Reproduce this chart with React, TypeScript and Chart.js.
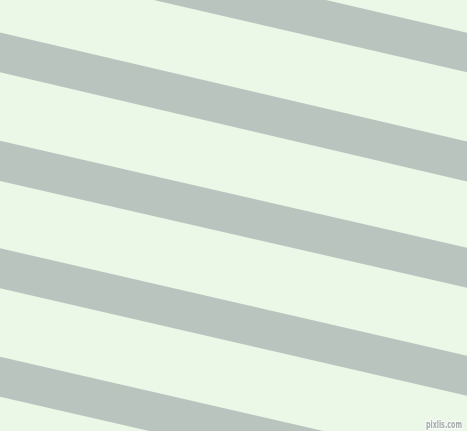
import React, { useEffect, useRef } from "react";
import { Chart, registerables, ChartConfiguration, Plugin } from "chart.js";

Chart.register(...registerables);

const WIDTH = 467;
const HEIGHT = 431;

// stripe edges, read at the left (x = 0) and right (x = 467) borders
const topLeft = [-75.5, 32.5, 140.8, 248.3, 356.7];
const topRight = [32.7, 141.5, 247.7, 355.7, 464];
const bottomLeft = [-35.5, 72.3, 181, 288.3, 396.7];
const bottomRight = [72.3, 181.5, 287.7, 395.7, 504];

const BG = "#ebf7e7";
const STRIPE = "#b9c4bf";
const watermark = "pixlis.com";

const watermarkPlugin: Plugin = {
  id: "watermark",
  afterDraw(chart) {
    const ctx = chart.ctx;
    ctx.save();
    ctx.font = "bold 10px 'DejaVu Sans Condensed', 'DejaVu Sans', sans-serif";
    ctx.textAlign = "right";
    ctx.textBaseline = "bottom";
    ctx.lineWidth = 2.5;
    ctx.lineJoin = "round";
    ctx.strokeStyle = "#f8fbf7";
    ctx.fillStyle = "#a3aca9";
    ctx.strokeText(watermark, 462, 430, 36);
    ctx.fillText(watermark, 462, 430, 36);
    ctx.restore();
  },
};

export default function App() {
  const ref = useRef<HTMLCanvasElement | null>(null);
  const chartRef = useRef<Chart | null>(null);

  useEffect(() => {
    const ctx = ref.current?.getContext("2d");
    if (!ctx) return;

    const datasets: any[] = [];
    topLeft.forEach((_, i) => {
      datasets.push({
        data: [
          { x: 0, y: topLeft[i] },
          { x: WIDTH, y: topRight[i] },
        ],
        borderWidth: 0,
        pointRadius: 0,
        fill: false,
      });
      datasets.push({
        data: [
          { x: 0, y: bottomLeft[i] },
          { x: WIDTH, y: bottomRight[i] },
        ],
        borderWidth: 0,
        pointRadius: 0,
        backgroundColor: STRIPE,
        fill: "-1",
      });
    });

    const config: ChartConfiguration = {
      type: "line",
      data: { datasets },
      options: {
        animation: false,
        responsive: true,
        maintainAspectRatio: false,
        layout: { padding: 0 },
        plugins: {
          legend: { display: false },
          tooltip: { enabled: false },
          filler: { propagate: false },
        },
        scales: {
          x: { type: "linear", min: 0, max: WIDTH, display: false },
          y: { type: "linear", min: 0, max: HEIGHT, reverse: true, display: false },
        },
      },
      plugins: [watermarkPlugin],
    };
    chartRef.current?.destroy();
    chartRef.current = new Chart(ctx, config);
    return () => chartRef.current?.destroy();
  }, []);

  return (
    <>
      <style>{"body{margin:0}"}</style>
      <div style={{ width: WIDTH, height: HEIGHT, background: BG, position: "relative" }}>
        <canvas ref={ref} aria-label="Diagonal stripes" role="img" />
      </div>
    </>
  );
}
